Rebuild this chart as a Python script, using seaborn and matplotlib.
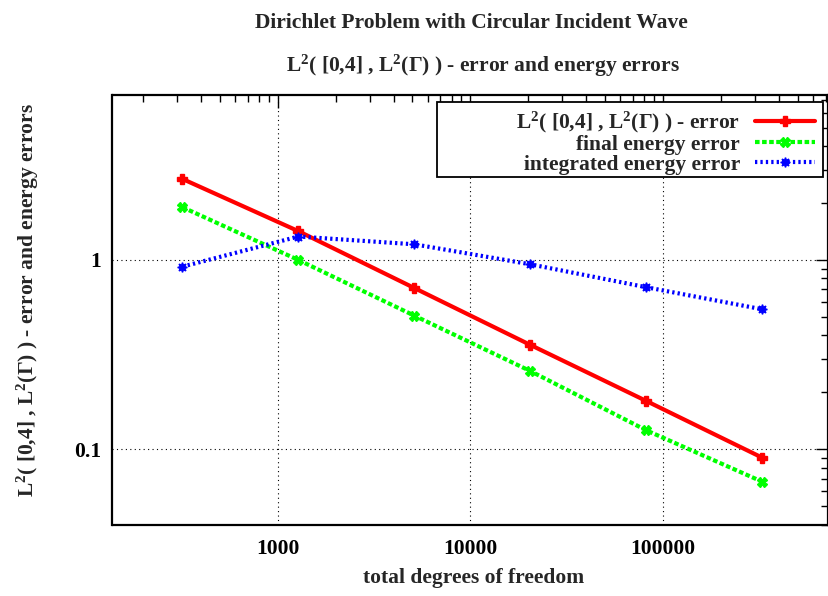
import numpy as np
import pandas as pd
import matplotlib
matplotlib.use("Agg")
import matplotlib.pyplot as plt
import seaborn as sns
from matplotlib.patches import Rectangle
from matplotlib.ticker import FixedLocator, NullFormatter, LogLocator

# Degrees of freedom for each refinement level
dofs = [320, 1280, 5120, 20480, 81920, 327680]

# Error measures
l2_error = [2.68, 1.42, 0.711, 0.356, 0.180, 0.0903]
final_energy_error = [1.90, 1.00, 0.508, 0.259, 0.126, 0.0674]
integrated_energy_error = [0.922, 1.33, 1.21, 0.949, 0.718, 0.549]

series_labels = [
    r"L$^{2}$( [0,4] , L$^{2}$(Γ) ) - error",
    "final energy error",
    "integrated energy error",
]

x_ticks = [1000, 10000, 100000]
x_tick_labels = ["1000", "10000", "100000"]
y_ticks = [0.1, 1]
y_tick_labels = ["0.1", "1"]

FS = 15.5

sns.set_style("white")
plt.rcParams["font.family"] = ["Liberation Serif", "DejaVu Serif"]
plt.rcParams["font.weight"] = "bold"
plt.rcParams["mathtext.fontset"] = "custom"
plt.rcParams["mathtext.rm"] = "Liberation Serif:bold"
plt.rcParams["mathtext.it"] = "Liberation Serif:bold"
plt.rcParams["mathtext.bf"] = "Liberation Serif:bold"

df = pd.DataFrame({
    "dofs": dofs * 3,
    "error": l2_error + final_energy_error + integrated_energy_error,
    "series": [series_labels[0]] * 6 + [series_labels[1]] * 6 + [series_labels[2]] * 6,
})

W, H = 829, 596
fig = plt.figure(figsize=(W / 100, H / 100), dpi=100)
ax = fig.add_axes([112.5 / W, 1 - 525 / H, (828 - 112.5) / W, (525 - 95) / H])

colors = {series_labels[0]: "#ff0000", series_labels[1]: "#00ff00", series_labels[2]: "#0000ff"}
markers = {series_labels[0]: "P", series_labels[1]: "X", series_labels[2]: (8, 1, 0)}
dash_map = {series_labels[0]: "", series_labels[1]: (1.1, 0.6), series_labels[2]: (0.55, 0.75)}

sns.lineplot(
    data=df, x="dofs", y="error", hue="series", style="series",
    palette=colors, markers=markers, dashes=dash_map,
    linewidth=3.0, markersize=7, markeredgewidth=1.0, ax=ax, legend=True,
)
for line in ax.lines:
    line.set_markeredgecolor(line.get_color())
    line.set_dash_capstyle("butt")

ax.set_xscale("log")
ax.set_yscale("log")
ax.set_xlim(138.7, 7.2e5)
ax.set_ylim(0.0398, 7.44)

ax.xaxis.set_major_locator(FixedLocator(x_ticks))
ax.set_xticklabels(x_tick_labels)
ax.xaxis.set_minor_locator(LogLocator(base=10, subs=np.arange(2, 10)))
ax.xaxis.set_minor_formatter(NullFormatter())
ax.yaxis.set_major_locator(FixedLocator(y_ticks))
ax.set_yticklabels(y_tick_labels)
ax.yaxis.set_minor_locator(LogLocator(base=10, subs=np.arange(2, 10)))
ax.yaxis.set_minor_formatter(NullFormatter())

ax.tick_params(which="both", direction="in", top=True, right=True, colors="black",
               labelsize=FS, width=1.0)
ax.tick_params(which="major", length=9)
ax.tick_params(axis="x", which="major", pad=10)
ax.tick_params(axis="y", which="major", pad=8)
ax.tick_params(which="minor", length=5)
for lbl in ax.get_xticklabels() + ax.get_yticklabels():
    lbl.set_fontweight("bold")

ax.grid(True, which="major", color="black", linestyle=(0, (1, 3)), linewidth=0.8)
for spine in ax.spines.values():
    spine.set_linewidth(1.6)
    spine.set_color("black")

ax.set_xlabel("total degrees of freedom", fontsize=FS, fontweight="bold")
ax.set_ylabel(r"L$^{2}$( [0,4] , L$^{2}$(Γ) ) - error and energy errors",
              fontsize=FS, fontweight="bold")
# label positions in axes coordinates
ax_w, ax_h = 828 - 112.5, 525 - 95
ax.xaxis.set_label_coords((474 - 112.5) / ax_w, -(578 - 525) / ax_h)
ax.xaxis.label.set_va("center")
ax.yaxis.set_label_coords(-(112.5 - 28) / ax_w, (525 - 300) / ax_h)
ax.yaxis.label.set_va("center")

fig.text(471 / W, 1 - 28 / H, "Dirichlet Problem with Circular Incident Wave",
         ha="center", va="baseline", fontsize=FS, fontweight="bold")
fig.text(483 / W, 1 - 72 / H,
         r"L$^{2}$( [0,4] , L$^{2}$(Γ) ) - error and energy errors",
         ha="center", va="baseline", fontsize=FS, fontweight="bold")

# key: entries right-aligned, sample lines on the right, wide box behind them
leg = ax.legend(loc="upper right", bbox_to_anchor=(823 / W, 1 - 102 / H),
                bbox_transform=fig.transFigure, markerfirst=False, fontsize=FS,
                frameon=False, handlelength=2.8, borderpad=0.35, labelspacing=0.0,
                handletextpad=0.7, borderaxespad=0)
leg.set_zorder(6)
for t in leg.get_texts():
    t.set_fontweight("bold")
key_box = Rectangle((437 / W, 1 - 177 / H), (823 - 437) / W, (177 - 102) / H,
                    transform=fig.transFigure, facecolor="white", edgecolor="black",
                    linewidth=1.3, zorder=5.5, clip_on=False)
ax.add_patch(key_box)

fig.savefig("out.png", dpi=100)
